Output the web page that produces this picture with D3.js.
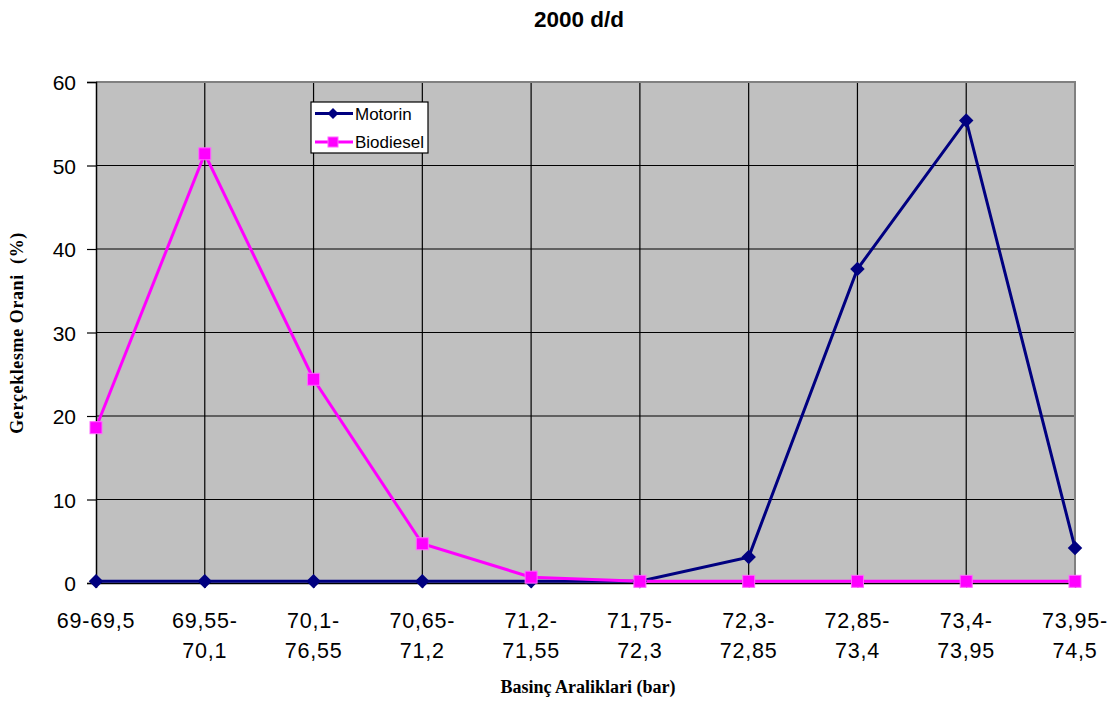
<!DOCTYPE html>
<html><head><meta charset="utf-8">
<script src="https://cdn.jsdelivr.net/npm/d3@7"></script>
<style>body{margin:0;background:#fff}</style>
</head><body>
<svg id="c" width="1119" height="704"></svg>
<script>
const categories = [["69-69,5",""],["69,55-","70,1"],["70,1-","76,55"],["70,65-","71,2"],["71,2-","71,55"],["71,75-","72,3"],["72,3-","72,85"],["72,85-","73,4"],["73,4-","73,95"],["73,95-","74,5"]];
const motorin = [0.2,0.2,0.2,0.2,0.2,0.2,3.1,37.6,55.4,4.2];
const biodiesel = [18.6,51.4,24.4,4.7,0.7,0.2,0.2,0.2,0.2,0.2];
const yTicks = [0,10,20,30,40,50,60];
const seriesNames = ["Motorin","Biodiesel"];

const svg = d3.select("#c");
const L=96,R=1075,T=82,B=583;
const x = d3.scalePoint().domain(d3.range(categories.length)).range([L,R]);
const y = d3.scaleLinear().domain([0,60]).range([B,T]);
const sans = "Liberation Sans, Arial, sans-serif";
const serif = "Liberation Serif, Times New Roman, serif";

svg.append("rect").attr("x",L).attr("y",T).attr("width",R-L).attr("height",B-T).attr("fill","#c0c0c0");
svg.append("g").selectAll("line").data(yTicks.slice(1,-1)).join("line")
 .attr("x1",L).attr("x2",R).attr("y1",d=>y(d)).attr("y2",d=>y(d)).attr("stroke","#000").attr("stroke-width",1.2);
svg.append("g").selectAll("line").data(d3.range(1,categories.length-1)).join("line")
 .attr("x1",d=>x(d)).attr("x2",d=>x(d)).attr("y1",T).attr("y2",B).attr("stroke","#000").attr("stroke-width",1.2);
svg.append("path").attr("d",`M${L},${T}H${R}V${B}`).attr("fill","none").attr("stroke","#808080").attr("stroke-width",2);

const ya = svg.append("g").attr("transform",`translate(${L},0)`)
 .call(d3.axisLeft(y).tickValues(yTicks).tickSize(9).tickPadding(11).tickFormat(d3.format("d")));
ya.select(".domain").attr("stroke","#000").attr("stroke-width",1.5);
ya.selectAll(".tick line").attr("stroke","#000").attr("stroke-width",1.2);
ya.selectAll("text").attr("font-family",sans).attr("font-size",21).attr("fill","#000").attr("dy","0.36em");

const xa = svg.append("g").attr("transform",`translate(0,${B})`)
 .call(d3.axisBottom(x).tickSize(5).tickFormat(""));
xa.select(".domain").attr("stroke","#000").attr("stroke-width",1.5);
xa.selectAll(".tick line").attr("stroke","#000");
const lab = svg.append("g");
categories.forEach((c,i)=>{
  const t = lab.append("text").attr("x",x(i)).attr("y",628).attr("text-anchor","middle")
   .attr("font-family",sans).attr("font-size",21.5).attr("letter-spacing",0.8).attr("fill","#000");
  t.append("tspan").attr("x",x(i)).text(c[0]);
  if(c[1]) t.append("tspan").attr("x",x(i)).attr("dy",30).text(c[1]);
});

const line = d3.line().x((d,i)=>x(i)).y(d=>y(d));
const colors = ["#000080","#ff00ff"];
[motorin,biodiesel].forEach((s,k)=>{
  svg.append("path").datum(s).attr("d",line).attr("fill","none").attr("stroke",colors[k]).attr("stroke-width",3);
});
svg.append("g").selectAll("path").data(motorin).join("path")
 .attr("d",d3.symbol(d3.symbolSquare,105))
 .attr("transform",(d,i)=>`translate(${x(i)},${y(d)}) rotate(45)`)
 .attr("fill","#000080");
svg.append("g").selectAll("rect").data(biodiesel).join("rect")
 .attr("x",(d,i)=>x(i)-6).attr("y",d=>y(d)-6).attr("width",12).attr("height",12)
 .attr("fill","#ff00ff").attr("stroke","#ff66ff").attr("stroke-width",1);

const lg = svg.append("g").attr("transform","translate(311,102)");
lg.append("rect").attr("width",117).attr("height",51).attr("fill","#fff").attr("stroke","#000").attr("stroke-width",1.2);
seriesNames.forEach((n,k)=>{
  const yy = 11.5+k*28.5;
  lg.append("line").attr("x1",4).attr("x2",42).attr("y1",yy).attr("y2",yy).attr("stroke",colors[k]).attr("stroke-width",3);
  if(k===0) lg.append("path").attr("d",d3.symbol(d3.symbolSquare,60)).attr("transform",`translate(22,${yy}) rotate(45)`).attr("fill",colors[k]);
  else lg.append("rect").attr("x",17).attr("y",yy-5).attr("width",10).attr("height",10).attr("fill",colors[k]).attr("stroke","#ff66ff");
  lg.append("text").attr("x",44).attr("y",yy).attr("dy","0.36em").attr("font-family",sans).attr("font-size",17).attr("fill","#000").text(n);
});

svg.append("text").attr("x",579).attr("y",27).attr("text-anchor","middle").attr("font-family",sans).attr("font-weight","bold").attr("font-size",22.5).text("2000 d/d");
svg.append("text").attr("x",588).attr("y",693).attr("text-anchor","middle").attr("font-family",serif).attr("font-weight","bold").attr("font-size",18).text("Basinç Araliklari (bar)");
svg.append("text").attr("transform","translate(23,333) rotate(-90)").attr("text-anchor","middle").attr("font-family",serif).attr("font-weight","bold").attr("font-size",18).attr("letter-spacing",0.6).attr("xml:space","preserve").text("Gerçeklesme Orani  (%)");
</script>
</body></html>
